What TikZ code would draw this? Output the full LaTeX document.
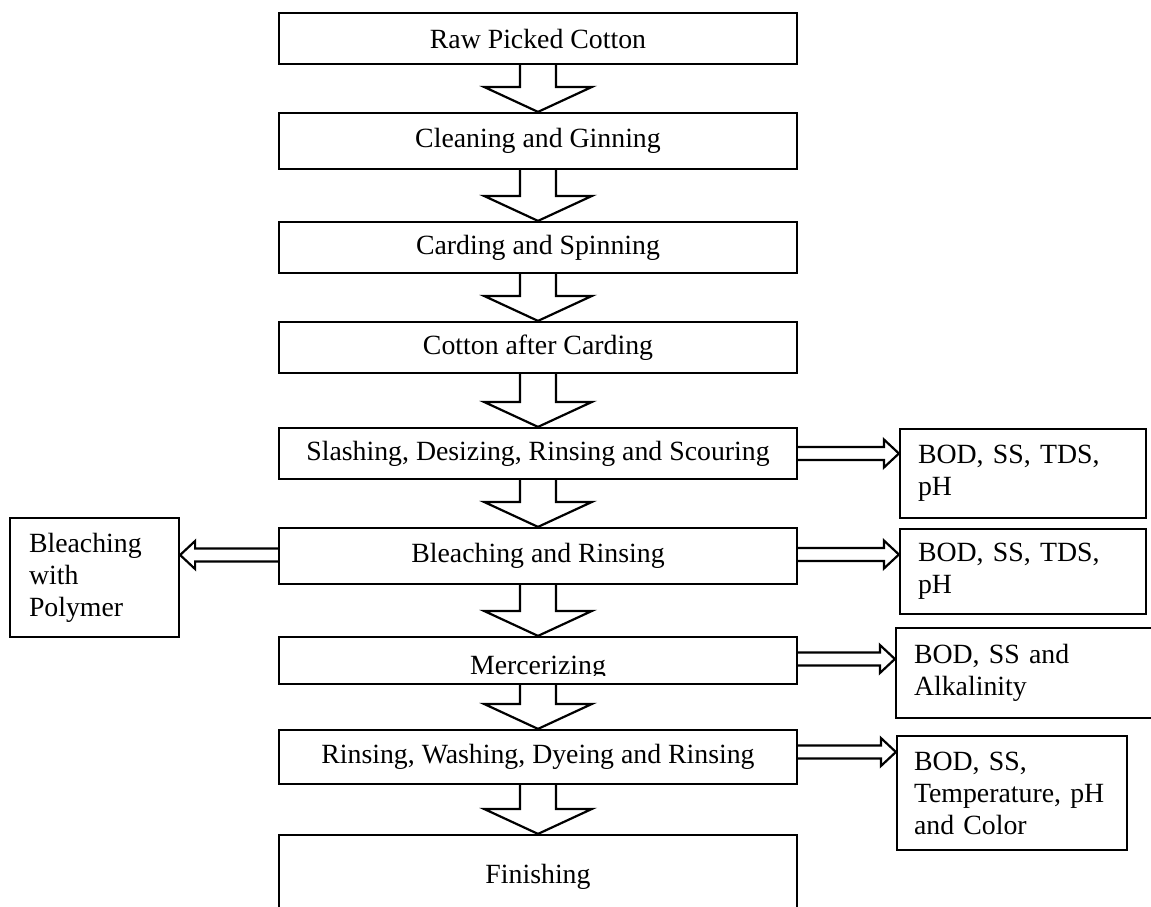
\documentclass[tikz,border=0pt]{standalone}
\usepackage{fontspec}
\setmainfont{Liberation Serif}
\usetikzlibrary{calc}

% block arrow pointing down, from the bottom of one stage to the top of the next
\newcommand\flowdown[2]{%
  \draw[flowline] ($(#1.south)+(-18,0)$) -- ($(#2.north)+(-18,-25)$)
    -- ($(#2.north)+(-54,-25)$) -- (#2.north) -- ($(#2.north)+(54,-25)$)
    -- ($(#2.north)+(18,-25)$) -- ($(#1.south)+(18,0)$);}

% hollow double-line arrow between two points (start, tip), pointing along +x or -x
\newcommand\flowside[3]{% #1 start, #2 tip, #3 direction (1 or -1)
  \draw[flowline] ($(#1)+(0,-6.5)$) -- ($(#2)+(-15*#3,-6.5)$) -- ($(#2)+(-15*#3,-14)$)
    -- (#2) -- ($(#2)+(-15*#3,14)$) -- ($(#2)+(-15*#3,6.5)$) -- ($(#1)+(0,6.5)$);}

\begin{document}
\begin{tikzpicture}[x=1pt,y=-1pt,
  line width=2.2pt, line join=miter,
  flowline/.style={draw, line width=2.2pt},
  txt/.style={font=\fontsize{27.8}{32}\selectfont},
  stage/.style={draw, txt, minimum width=518pt, inner sep=0pt},
  note/.style={draw, txt, inner xsep=18pt, inner ysep=0pt, align=left},
]
\useasboundingbox (0,0) rectangle (1151,907);

% main process chain
\node[stage, minimum height=51pt] (b1) at (538,38.5) {Raw Picked Cotton};
\node[stage, minimum height=56pt] (b2) at (538,141) {Cleaning and Ginning};
\node[stage, minimum height=51pt] (b3) at (538,247.5) {Carding and Spinning};
\node[stage, minimum height=51pt] (b4) at (538,347.5) {Cotton after Carding};
\node[stage, minimum height=51pt] (b5) at (538,453.5) {Slashing, Desizing, Rinsing and Scouring};
\node[stage, minimum height=56pt] (b6) at (538,556) {Bleaching and Rinsing};
\node[stage, minimum height=47pt] (b7) at (538,660.5) {};
\begin{scope}
  \clip (279,637) rectangle (797,675);
  \node[txt, anchor=base, inner sep=0pt] (t7) at (538,674) {Mercerizing};
\end{scope}
\node[stage, minimum height=54pt] (b8) at (538,757) {Rinsing, Washing, Dyeing and Rinsing};
\node[stage, minimum height=84pt] (b9) at (538,877) {Finishing};

% effluent parameters
\node[note, text width=210pt, minimum height=89pt] (r1) at (1023,473.5) {BOD, SS, TDS,\\pH};
\node[note, text width=210pt, minimum height=85pt] (r2) at (1023,571.5) {BOD, SS, TDS,\\pH};
\node[note, text width=238pt, minimum height=90pt] (r3) at (1033,673) {BOD, SS and\\Alkalinity};
\node[note, text width=196pt, inner xsep=17pt, minimum height=114pt] (r4) at (1012,793) {BOD, SS,\\Temperature, pH\\and Color};

% alternative bleaching
\node[note, text width=131pt, inner xsep=19pt, minimum height=119pt] (l1) at (94.5,577.5) {Bleaching\\with\\Polymer};

% downward flow
\flowdown{b1}{b2}
\flowdown{b2}{b3}
\flowdown{b3}{b4}
\flowdown{b4}{b5}
\flowdown{b5}{b6}
\flowdown{b6}{b7}
\flowdown{b7}{b8}
\flowdown{b8}{b9}

% side outputs
\coordinate (s5) at (b5.east);
\coordinate (e5) at (r1.west |- b5.east);
\flowside{s5}{e5}{1}
\coordinate (s6) at ($(b6.east)+(0,-1.5)$);
\coordinate (e6) at (r2.west |- s6);
\flowside{s6}{e6}{1}
\coordinate (s7) at ($(b7.east)+(0,-1.5)$);
\coordinate (e7) at (r3.west |- s7);
\flowside{s7}{e7}{1}
\coordinate (s8) at ($(b8.east)+(0,-5)$);
\coordinate (e8) at (r4.west |- s8);
\flowside{s8}{e8}{1}
\coordinate (w6) at ($(b6.west)+(0,-1)$);
\coordinate (ew6) at (l1.east |- w6);
\flowside{w6}{ew6}{-1}
\end{tikzpicture}
\end{document}
